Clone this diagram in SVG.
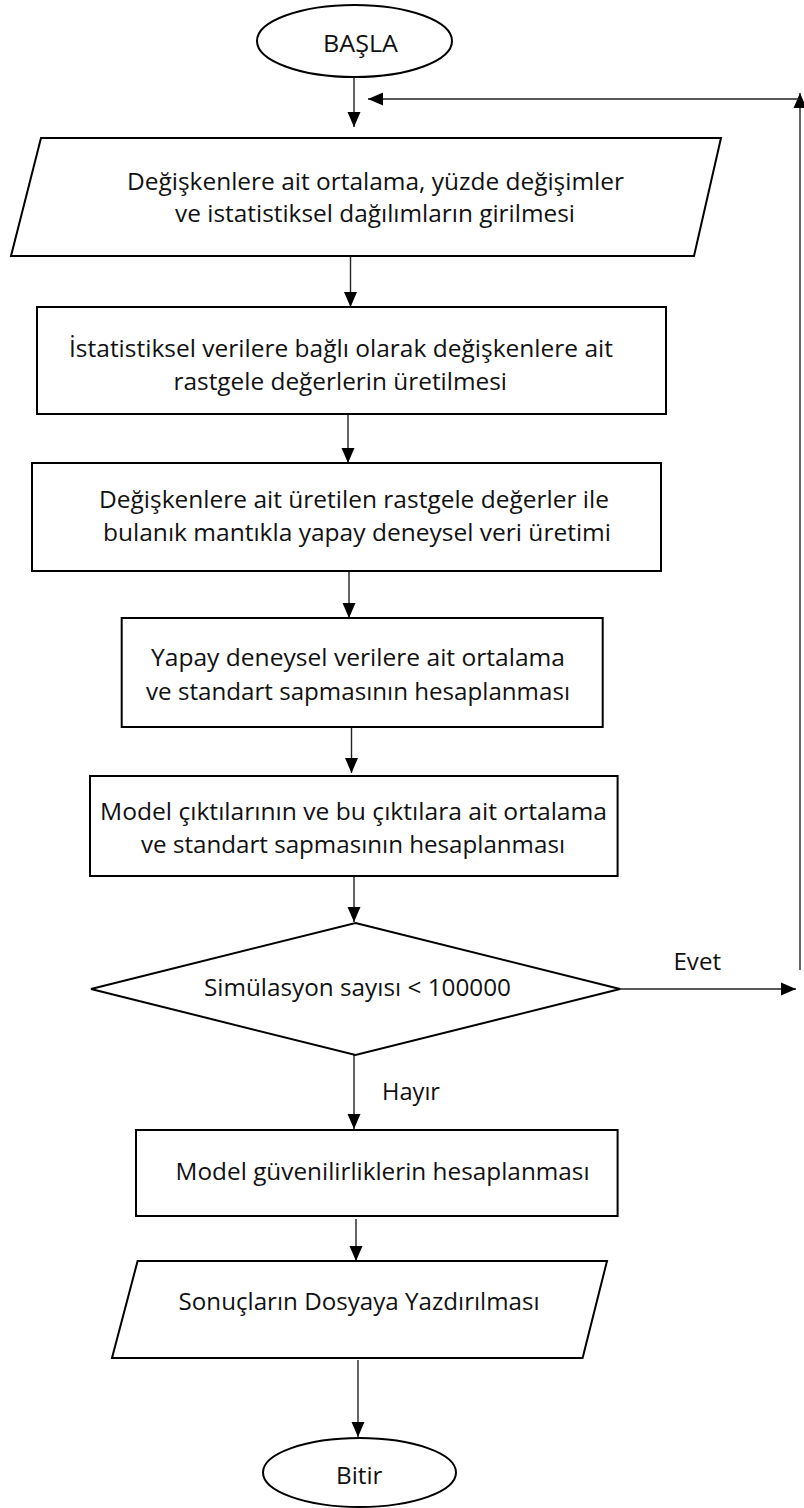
<svg xmlns="http://www.w3.org/2000/svg" width="804" height="1508" viewBox="0 0 804 1508">
<style>
.shape{fill:#fff;stroke:#000;stroke-width:2}
.conn{stroke:#222;stroke-width:1.4;fill:none;marker-end:url(#arr)}
.t{font-family:"Open Sans","Noto Sans",sans-serif;font-size:23px;fill:#111}
</style>
<defs>
<marker id="arr" markerUnits="userSpaceOnUse" markerWidth="16" markerHeight="14" refX="15" refY="7" orient="auto" viewBox="0 0 16 14">
<path d="M0,0.5 L15,7 L0,13.5 z" fill="#000"/>
</marker>
</defs>
<rect width="804" height="1508" fill="#fff"/>
<g id="connectors">
<line class="conn" x1="354" y1="77" x2="354" y2="127"/>
<line class="conn" x1="800" y1="970" x2="800" y2="93"/>
<line class="conn" x1="800" y1="99" x2="368" y2="99"/>
<line class="conn" x1="350.5" y1="256" x2="350.5" y2="307"/>
<line class="conn" x1="348" y1="414" x2="348" y2="463"/>
<line class="conn" x1="349" y1="571" x2="349" y2="618"/>
<line class="conn" x1="351.5" y1="727" x2="351.5" y2="773"/>
<line class="conn" x1="354" y1="876" x2="354" y2="922"/>
<line class="conn" x1="620" y1="989" x2="796" y2="989"/>
<line class="conn" x1="354" y1="1055" x2="354" y2="1129"/>
<line class="conn" x1="356" y1="1219" x2="356" y2="1261"/>
<line class="conn" x1="358" y1="1360" x2="358" y2="1437"/>
<text class="t" x="673.5" y="970" textLength="47.5" lengthAdjust="spacingAndGlyphs">Evet</text>
<text class="t" x="382" y="1100" textLength="58" lengthAdjust="spacingAndGlyphs">Hayır</text>
</g>
<g id="start">
<ellipse class="shape" cx="354.5" cy="41" rx="97.5" ry="36"/>
<text class="t" x="323" y="52" textLength="75" lengthAdjust="spacingAndGlyphs">BAŞLA</text>
</g>
<g id="input">
<polygon class="shape" points="41,138 721,138 694,256 11,256"/>
<text class="t" x="127" y="190" textLength="497" lengthAdjust="spacingAndGlyphs">Değişkenlere ait ortalama, yüzde değişimler</text>
<text class="t" x="175" y="222" textLength="400" lengthAdjust="spacingAndGlyphs">ve istatistiksel dağılımların girilmesi</text>
</g>
<g id="generate">
<rect class="shape" x="37" y="307" width="629" height="107"/>
<text class="t" x="69" y="357" textLength="544" lengthAdjust="spacingAndGlyphs">İstatistiksel verilere bağlı olarak değişkenlere ait</text>
<text class="t" x="173.5" y="390" textLength="333.5" lengthAdjust="spacingAndGlyphs">rastgele değerlerin üretilmesi</text>
</g>
<g id="fuzzy">
<rect class="shape" x="32" y="463" width="629" height="108"/>
<text class="t" x="99" y="508" textLength="510" lengthAdjust="spacingAndGlyphs">Değişkenlere ait üretilen rastgele değerler ile</text>
<text class="t" x="103" y="541" textLength="508" lengthAdjust="spacingAndGlyphs">bulanık mantıkla yapay deneysel veri üretimi</text>
</g>
<g id="stats">
<rect class="shape" x="121.7" y="618" width="481" height="109"/>
<text class="t" x="151" y="666" textLength="414" lengthAdjust="spacingAndGlyphs">Yapay deneysel verilere ait ortalama</text>
<text class="t" x="146" y="700" textLength="424" lengthAdjust="spacingAndGlyphs">ve standart sapmasının hesaplanması</text>
</g>
<g id="model">
<rect class="shape" x="90" y="776" width="527.6" height="100"/>
<text class="t" x="100" y="820" textLength="507" lengthAdjust="spacingAndGlyphs">Model çıktılarının ve bu çıktılara ait ortalama</text>
<text class="t" x="141" y="853" textLength="424" lengthAdjust="spacingAndGlyphs">ve standart sapmasının hesaplanması</text>
</g>
<g id="decision">
<polygon class="shape" points="355.5,923 620,989 355.5,1055 91,989"/>
<text class="t" x="204" y="996" textLength="307" lengthAdjust="spacingAndGlyphs">Simülasyon sayısı &lt; 100000</text>
</g>
<g id="reliability">
<rect class="shape" x="136" y="1130" width="481.6" height="86"/>
<text class="t" x="175.6" y="1180" textLength="414" lengthAdjust="spacingAndGlyphs">Model güvenilirliklerin hesaplanması</text>
</g>
<g id="output">
<polygon class="shape" points="137.6,1261 607,1261 582.6,1358 112,1358"/>
<text class="t" x="178.6" y="1310" textLength="361" lengthAdjust="spacingAndGlyphs">Sonuçların Dosyaya Yazdırılması</text>
</g>
<g id="end">
<ellipse class="shape" cx="359.5" cy="1472.5" rx="96.5" ry="34.5"/>
<text class="t" x="336" y="1484" textLength="46.5" lengthAdjust="spacingAndGlyphs">Bitir</text>
</g>
</svg>
